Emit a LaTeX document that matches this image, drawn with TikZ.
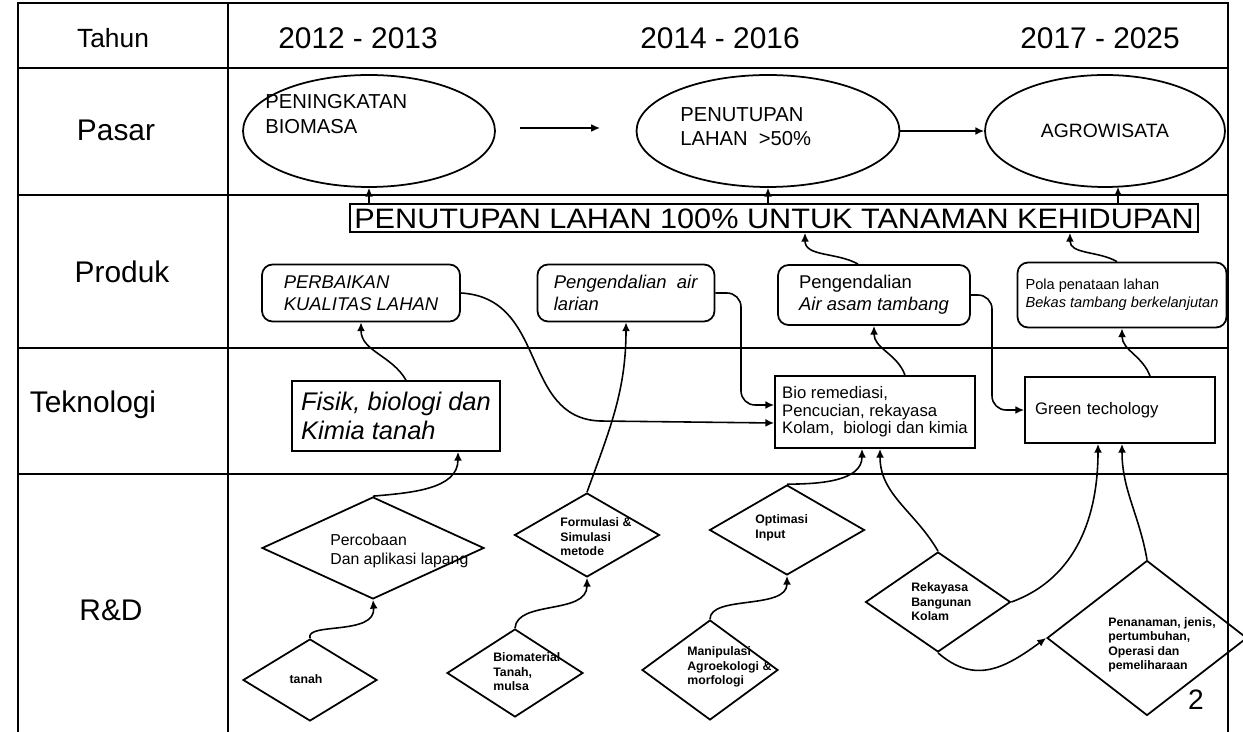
\documentclass[tikz,border=0pt]{standalone}
\usepackage{fontspec}
\setmainfont{Liberation Sans}
\newfontfamily\wideSans[FakeStretch=1.09]{Liberation Sans}
\usepackage{tikz}
\usetikzlibrary{shapes.geometric,arrows.meta}

\begin{document}
\begin{tikzpicture}[x=0.02cm,y=-0.02cm]
\tikzstyle{gridLine}=[line width=1.1pt]
\tikzstyle{headStyle}=[inner sep=0pt, font=\fontsize{17}{20}\selectfont]
\tikzstyle{rowStyle}=[inner sep=0pt, font=\fontsize{17}{20}\selectfont]
\tikzstyle{ellStyle}=[shape=ellipse, draw, line width=1pt, inner sep=0pt]
\tikzstyle{ellText}=[align=left, inner sep=0pt, font=\fontsize{11.5}{14}\selectfont]
\tikzstyle{bannerStyle}=[shape=rectangle, draw, line width=1pt, inner sep=0pt, text height=11.5pt, text depth=0pt, font=\wideSans\fontsize{16}{19}\selectfont]
\tikzstyle{prodStyle}=[shape=rectangle, rounded corners=6pt, draw, line width=1pt, align=left, inner sep=0pt, font=\fontsize{10.5}{12.5}\selectfont]
\tikzstyle{tekStyle}=[shape=rectangle, draw, line width=1pt, align=left, inner sep=0pt]
\tikzstyle{rdStyle}=[shape=diamond, draw, line width=1pt, inner sep=0pt]
\tikzstyle{rdText}=[align=left, inner sep=0pt, font=\fontsize{7}{8.2}\selectfont\bfseries]
\tikzstyle{arr}=[line width=0.9pt, -{Latex[length=5pt,width=4.5pt]}]

\useasboundingbox (0,0) rectangle (1243,732);
\draw[gridLine] (18,740) -- (18,3) -- (1228,3) -- (1228,740);
\draw[gridLine] (228,3) -- (228,740);
\draw[gridLine] (18,68) -- (1228,68);
\draw[gridLine] (18,195) -- (1228,195);
\draw[gridLine] (18,348) -- (1228,348);
\draw[gridLine] (18,474) -- (1228,474);

\node[headStyle, font=\fontsize{15}{18}\selectfont] (h0) at (113,38) {Tahun};
\node[headStyle] (h1) at (358,38) {2012 - 2013};
\node[headStyle] (h2) at (720,38) {2014 - 2016};
\node[headStyle] (h3) at (1100,38) {2017 - 2025};
\node[rowStyle] (r1) at (116,130) {Pasar};
\node[rowStyle] (r2) at (122,272) {Produk};
\node[rowStyle] (r3) at (93,405) {Teknologi};
\node[rowStyle] (r4) at (111,610) {R\&D};

\node[ellStyle, minimum width=5.04cm, minimum height=2.24cm] (e1) at (369,131) {};
\node[ellStyle, minimum width=5.26cm, minimum height=2.24cm] (e2) at (768,131) {};
\node[ellStyle, minimum width=4.8cm, minimum height=2.24cm, font=\fontsize{11}{13}\selectfont] (e3) at (1105,131) {AGROWISATA};
\node[ellText, anchor=north west] (e1t) at (265,94) {PENINGKATAN\\BIOMASA};
\node[ellText, anchor=north west] (e2t) at (680,107) {PENUTUPAN\\LAHAN \ \textgreater 50\%};
\coordinate (a1) at (520,128);
\coordinate (a2) at (600,128);
\draw[arr] (a1) -- (a2);
\draw[arr] (e2.east) -- (e3.west);

\node[bannerStyle, minimum width=16.96cm, minimum height=0.56cm] (ban) at (774,218) {PENUTUPAN LAHAN 100\% UNTUK TANAMAN KEHIDUPAN};
\draw[arr] (e1.south |- ban.north) -- (e1.south);
\draw[arr] (e2.south |- ban.north) -- (e2.south);
\draw[arr] ([xshift=0.26cm]e3.south |- ban.north) -- ([xshift=0.26cm,yshift=0.02cm]e3.south);

\node[prodStyle, minimum width=3.96cm, minimum height=1.14cm] (p1) at (361,293) {\textit{PERBAIKAN}\\\textit{KUALITAS LAHAN}};
\node[prodStyle, minimum width=3.54cm, minimum height=1.14cm] (p2) at (626,293) {\textit{Pengendalian \ air}\\\textit{larian}};
\node[prodStyle, minimum width=3.84cm, minimum height=1.2cm] (p3) at (874,295) {Pengendalian\\\textit{Air asam tambang}};
\node[prodStyle, minimum width=4.18cm, minimum height=1.3cm, font=\fontsize{8.3}{10.5}\selectfont] (p4) at (1122,295) {Pola penataan lahan\\\textit{Bekas tambang berkelanjutan}};
\draw[arr] ([xshift=-0.32cm]p3.north) to[out=150,in=-90] ([xshift=0.62cm]ban.south);
\draw[arr] ([xshift=-0.1cm]p4.north) to[out=150,in=-90] ([xshift=5.92cm]ban.south);

\node[tekStyle, minimum width=4.16cm, minimum height=1.4cm, font=\fontsize{14.5}{16.5}\selectfont\itshape] (t1) at (396,416) {Fisik, biologi dan\\Kimia tanah};
\node[tekStyle, minimum width=4cm, minimum height=1.44cm, font=\fontsize{9.5}{10}\selectfont] (t2) at (875,412) {Bio remediasi,\\Pencucian, rekayasa\\Kolam, \ biologi dan kimia};
\node[tekStyle, minimum width=3.8cm, minimum height=1.32cm, text width=3.4cm, font=\fontsize{9.5}{11}\selectfont] (t3) at (1120,410) {Green techology};
\draw[arr] ([xshift=0.2cm]t1.north) to[out=120,in=-90] (p1.south);
\draw[arr] (p1.east) .. controls (548,298) and (520,418) .. (600,421) -- ([yshift=-0.22cm]t2.west);
\draw[arr, rounded corners=8pt] (p2.east) -| (741,405) -- ([yshift=0.14cm]t2.west);
\draw[arr, rounded corners=8pt] (p3.east) -| (992,410) -- (t3.west);
\draw[arr] ([xshift=0.6cm]t2.north) to[out=110,in=-90] (p3.south);
\draw[arr] ([xshift=0.6cm]t3.north) to[out=110,in=-90] (p4.south);

\node[rdStyle, minimum width=4.44cm, minimum height=2.04cm] (d1) at (373,548) {};
\node[rdStyle, minimum width=2.68cm, minimum height=1.64cm] (d2) at (310,680) {};
\node[rdStyle, minimum width=2.9cm, minimum height=1.68cm] (d3) at (587,535) {};
\node[rdStyle, minimum width=2.72cm, minimum height=1.76cm] (d4) at (515,673) {};
\node[rdStyle, minimum width=3.1cm, minimum height=1.8cm] (d5) at (787,530) {};
\node[rdStyle, minimum width=2.72cm, minimum height=2cm] (d6) at (710,670) {};
\node[rdStyle, minimum width=2.9cm, minimum height=2cm] (d7) at (938,602) {};
\node[rdStyle, minimum width=4cm, minimum height=3.1cm] (d8) at (1147,638) {};
\node[rdText, anchor=west, font=\fontsize{9}{11}\selectfont] (d1t) at (330,551) {Percobaan\\Dan aplikasi lapang};
\node[rdText] (d2t) at (306,679) {tanah};
\node[rdText, anchor=west] (d3t) at (560,537) {Formulasi \&\\Simulasi\\metode};
\node[rdText, anchor=west] (d4t) at (493,672) {Biomaterial\\Tanah,\\mulsa};
\node[rdText, anchor=west] (d5t) at (755,528) {Optimasi\\Input};
\node[rdText, anchor=west] (d6t) at (687,667) {Manipulasi\\Agroekologi \&\\morfologi};
\node[rdText, anchor=west] (d7t) at (911,602) {Rekayasa\\Bangunan\\Kolam};
\node[rdText, anchor=west] (d8t) at (1108,645) {Penanaman, jenis,\\pertumbuhan,\\Operasi dan\\pemeliharaan};

\draw[arr] (d2.north) .. controls (305,622) and (376,636) .. (d1.south);
\draw[arr] (d1.north) to[out=5,in=-90] ([xshift=1.24cm]t1.south);
\draw[arr] (d3.north) to[out=70,in=-90] (p2.south);
\draw[arr] (d4.north) .. controls (517,600) and (587,615) .. (d3.south);
\draw[arr] (d5.north) to[out=0,in=-90] ([xshift=-0.26cm]t2.south);
\draw[arr] (d6.north) .. controls (710,595) and (787,610) .. (d5.south);
\draw[arr] (d7.north) to[out=120,in=-90] ([xshift=0.1cm]t2.south);
\draw[arr] (d7.east) to[out=20,in=-90] ([xshift=-0.44cm]t3.south);
\draw[arr] (d8.north) to[out=100,in=-90] ([xshift=0.04cm]t3.south);
\draw[arr] (d7.south) .. controls (975,685) and (1005,668) .. (d8.west);

\node[inner sep=0pt, font=\fontsize{16}{18}\selectfont] (pg) at (1196,700) {2};
\end{tikzpicture}
\end{document}
